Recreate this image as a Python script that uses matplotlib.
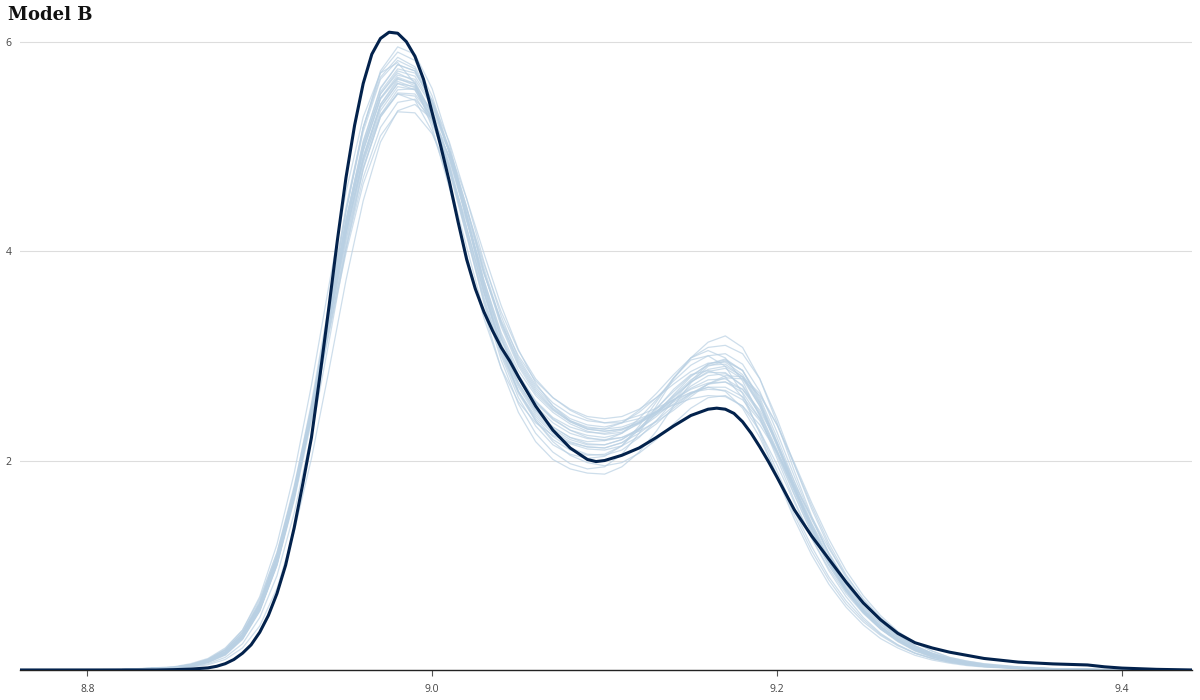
import numpy as np
import matplotlib.pyplot as plt

obs_x = [8.761, 8.84, 8.85, 8.86, 8.87, 8.875, 8.88, 8.885, 8.89, 8.895,
         8.900, 8.905, 8.910, 8.915, 8.920, 8.925, 8.930, 8.935, 8.940, 8.945,
         8.950, 8.955, 8.960, 8.965, 8.970, 8.975, 8.980, 8.985, 8.990, 8.995,
         9.000, 9.005, 9.010, 9.015, 9.020, 9.025, 9.030, 9.035, 9.040, 9.045,
         9.050, 9.060, 9.070, 9.080, 9.090, 9.095, 9.100, 9.110, 9.120, 9.130,
         9.140, 9.150, 9.160, 9.165, 9.170, 9.175, 9.180, 9.185, 9.190, 9.195,
         9.200, 9.210, 9.220, 9.230, 9.240, 9.250, 9.260, 9.270, 9.280, 9.290,
         9.300, 9.320, 9.340, 9.360, 9.380, 9.390, 9.400, 9.420, 9.4406]
obs_y = [0.0, 0.0, 0.003, 0.008, 0.02, 0.035, 0.06, 0.10, 0.16, 0.24,
         0.36, 0.52, 0.73, 1.00, 1.36, 1.78, 2.22, 2.82, 3.45, 4.10,
         4.70, 5.20, 5.60, 5.88, 6.03, 6.09, 6.08, 6.00, 5.86, 5.64,
         5.32, 5.00, 4.66, 4.28, 3.92, 3.64, 3.42, 3.24, 3.08, 2.95,
         2.80, 2.52, 2.29, 2.12, 2.01, 1.99, 2.00, 2.05, 2.12, 2.22,
         2.33, 2.43, 2.49, 2.50, 2.49, 2.45, 2.37, 2.26, 2.13, 1.99,
         1.84, 1.53, 1.28, 1.06, 0.84, 0.64, 0.48, 0.35, 0.26, 0.21,
         0.17, 0.11, 0.075, 0.058, 0.048, 0.03, 0.018, 0.006, 0.0]

# replicated densities (light lines), all on one grid
rep_x = [8.76, 8.82, 8.85, 8.86, 8.87, 8.88, 8.89, 8.90, 8.91, 8.92,
         8.93, 8.94, 8.95, 8.96, 8.97, 8.98, 8.99, 9.00, 9.01, 9.02,
         9.03, 9.04, 9.05, 9.06, 9.07, 9.08, 9.09, 9.10, 9.11, 9.12,
         9.13, 9.14, 9.15, 9.16, 9.17, 9.18, 9.19, 9.20, 9.21, 9.22,
         9.23, 9.24, 9.25, 9.26, 9.27, 9.28, 9.29, 9.30, 9.31, 9.32,
         9.34, 9.36, 9.38, 9.40, 9.44]
reps = [
    [0, 0.003, 0.02, 0.04, 0.08, 0.16, 0.32, 0.60, 1.05, 1.68,
     2.45, 3.32, 4.18, 4.90, 5.40, 5.64, 5.60, 5.32, 4.88, 4.30,
     3.68, 3.16, 2.80, 2.56, 2.40, 2.29, 2.22, 2.19, 2.22, 2.30,
     2.42, 2.57, 2.71, 2.81, 2.83, 2.72, 2.46, 2.10, 1.71, 1.34,
     1.03, 0.77, 0.57, 0.41, 0.29, 0.20, 0.14, 0.095, 0.065, 0.045,
     0.022, 0.010, 0.005, 0.002, 0],
    [0, 0.002, 0.015, 0.03, 0.07, 0.14, 0.29, 0.56, 1.00, 1.65,
     2.48, 3.42, 4.38, 5.18, 5.72, 5.95, 5.88, 5.55, 5.02, 4.35,
     3.66, 3.08, 2.66, 2.38, 2.18, 2.05, 1.98, 1.95, 1.98, 2.07,
     2.20, 2.35, 2.50, 2.60, 2.62, 2.52, 2.28, 1.96, 1.60, 1.26,
     0.97, 0.73, 0.54, 0.39, 0.28, 0.19, 0.13, 0.09, 0.06, 0.04,
     0.02, 0.009, 0.004, 0.002, 0],
    [0, 0.004, 0.025, 0.05, 0.10, 0.19, 0.36, 0.64, 1.08, 1.68,
     2.40, 3.20, 3.98, 4.64, 5.10, 5.33, 5.32, 5.12, 4.76, 4.28,
     3.78, 3.34, 3.00, 2.76, 2.60, 2.49, 2.42, 2.40, 2.42, 2.49,
     2.60, 2.73, 2.85, 2.93, 2.94, 2.82, 2.55, 2.17, 1.76, 1.38,
     1.06, 0.79, 0.58, 0.42, 0.30, 0.21, 0.14, 0.095, 0.065, 0.045,
     0.022, 0.010, 0.005, 0.002, 0],
    [0, 0.003, 0.02, 0.04, 0.08, 0.16, 0.31, 0.58, 1.02, 1.66,
     2.46, 3.38, 4.30, 5.05, 5.55, 5.78, 5.72, 5.42, 4.94, 4.32,
     3.66, 3.12, 2.74, 2.48, 2.32, 2.22, 2.18, 2.19, 2.26, 2.40,
     2.58, 2.79, 2.98, 3.13, 3.19, 3.08, 2.78, 2.36, 1.90, 1.47,
     1.11, 0.82, 0.59, 0.42, 0.29, 0.20, 0.13, 0.09, 0.06, 0.04,
     0.018, 0.008, 0.004, 0.001, 0],
    [0, 0.002, 0.015, 0.03, 0.06, 0.12, 0.25, 0.50, 0.90, 1.50,
     2.25, 3.12, 4.02, 4.78, 5.30, 5.54, 5.55, 5.34, 4.96, 4.42,
     3.84, 3.32, 2.94, 2.68, 2.50, 2.38, 2.32, 2.30, 2.32, 2.38,
     2.47, 2.58, 2.68, 2.74, 2.75, 2.68, 2.48, 2.17, 1.80, 1.44,
     1.12, 0.85, 0.63, 0.46, 0.33, 0.23, 0.16, 0.11, 0.075, 0.05,
     0.025, 0.012, 0.005, 0.002, 0],
    [0, 0.003, 0.02, 0.04, 0.09, 0.17, 0.33, 0.62, 1.08, 1.74,
     2.55, 3.48, 4.42, 5.18, 5.66, 5.85, 5.76, 5.44, 4.94, 4.30,
     3.62, 3.06, 2.66, 2.40, 2.23, 2.12, 2.06, 2.05, 2.10, 2.22,
     2.38, 2.57, 2.76, 2.92, 2.97, 2.86, 2.56, 2.16, 1.74, 1.35,
     1.03, 0.76, 0.55, 0.39, 0.27, 0.18, 0.12, 0.085, 0.055, 0.035,
     0.016, 0.007, 0.003, 0.001, 0],
    [0, 0.005, 0.03, 0.06, 0.11, 0.21, 0.38, 0.68, 1.12, 1.72,
     2.44, 3.24, 4.02, 4.70, 5.18, 5.42, 5.45, 5.26, 4.90, 4.40,
     3.88, 3.42, 3.05, 2.78, 2.60, 2.48, 2.40, 2.36, 2.36, 2.40,
     2.46, 2.53, 2.59, 2.62, 2.61, 2.52, 2.34, 2.08, 1.77, 1.46,
     1.16, 0.90, 0.68, 0.50, 0.36, 0.26, 0.18, 0.12, 0.085, 0.06,
     0.03, 0.014, 0.006, 0.002, 0],
    [0, 0.003, 0.02, 0.04, 0.08, 0.16, 0.31, 0.59, 1.04, 1.68,
     2.48, 3.38, 4.30, 5.02, 5.50, 5.70, 5.62, 5.30, 4.80, 4.16,
     3.50, 2.96, 2.54, 2.26, 2.08, 1.97, 1.92, 1.94, 2.06, 2.26,
     2.52, 2.78, 2.98, 3.05, 2.98, 2.76, 2.42, 2.02, 1.62, 1.26,
     0.95, 0.70, 0.50, 0.35, 0.24, 0.16, 0.11, 0.075, 0.05, 0.033,
     0.015, 0.006, 0.003, 0.001, 0],
    [0, 0.003, 0.02, 0.045, 0.09, 0.17, 0.33, 0.61, 1.06, 1.69,
     2.46, 3.32, 4.16, 4.88, 5.37, 5.60, 5.57, 5.30, 4.88, 4.32,
     3.72, 3.22, 2.86, 2.62, 2.46, 2.35, 2.28, 2.25, 2.27, 2.35,
     2.47, 2.61, 2.75, 2.84, 2.84, 2.71, 2.44, 2.07, 1.68, 1.31,
     1.00, 0.75, 0.55, 0.40, 0.28, 0.19, 0.13, 0.09, 0.06, 0.04,
     0.02, 0.009, 0.004, 0.002, 0],
    [0, 0.004, 0.025, 0.05, 0.10, 0.20, 0.38, 0.70, 1.20, 1.88,
     2.72, 3.66, 4.56, 5.28, 5.70, 5.80, 5.60, 5.18, 4.60, 3.96,
     3.36, 2.88, 2.56, 2.36, 2.24, 2.17, 2.13, 2.12, 2.17, 2.26,
     2.38, 2.52, 2.64, 2.70, 2.66, 2.50, 2.22, 1.86, 1.48, 1.14,
     0.86, 0.63, 0.46, 0.33, 0.23, 0.16, 0.11, 0.075, 0.05, 0.033,
     0.015, 0.006, 0.003, 0.001, 0],
    [0, 0.002, 0.012, 0.025, 0.05, 0.10, 0.21, 0.42, 0.78, 1.32,
     2.02, 2.85, 3.72, 4.48, 5.04, 5.34, 5.40, 5.26, 4.96, 4.50,
     3.98, 3.48, 3.06, 2.74, 2.52, 2.38, 2.31, 2.30, 2.36, 2.48,
     2.64, 2.82, 2.98, 3.08, 3.10, 3.02, 2.78, 2.40, 1.96, 1.54,
     1.18, 0.88, 0.64, 0.46, 0.32, 0.22, 0.15, 0.10, 0.07, 0.046,
     0.022, 0.010, 0.004, 0.002, 0],
    [0, 0.003, 0.02, 0.04, 0.085, 0.17, 0.33, 0.62, 1.08, 1.72,
     2.50, 3.38, 4.24, 4.96, 5.45, 5.65, 5.58, 5.27, 4.80, 4.18,
     3.56, 3.04, 2.66, 2.42, 2.26, 2.16, 2.11, 2.10, 2.14, 2.23,
     2.35, 2.50, 2.63, 2.73, 2.75, 2.65, 2.40, 2.05, 1.67, 1.31,
     1.00, 0.75, 0.55, 0.40, 0.28, 0.19, 0.13, 0.09, 0.06, 0.04,
     0.02, 0.009, 0.004, 0.002, 0],
    [0, 0.002, 0.015, 0.035, 0.075, 0.15, 0.30, 0.57, 1.02, 1.66,
     2.48, 3.42, 4.38, 5.18, 5.70, 5.90, 5.82, 5.48, 4.96, 4.34,
     3.70, 3.18, 2.80, 2.55, 2.39, 2.29, 2.24, 2.22, 2.26, 2.36,
     2.50, 2.66, 2.81, 2.91, 2.92, 2.80, 2.52, 2.14, 1.73, 1.35,
     1.03, 0.77, 0.56, 0.40, 0.28, 0.19, 0.13, 0.09, 0.06, 0.04,
     0.02, 0.009, 0.004, 0.002, 0],
    [0, 0.004, 0.025, 0.05, 0.10, 0.19, 0.36, 0.66, 1.12, 1.76,
     2.52, 3.36, 4.18, 4.86, 5.30, 5.50, 5.44, 5.14, 4.66, 4.04,
     3.42, 2.88, 2.46, 2.18, 2.01, 1.92, 1.88, 1.87, 1.94, 2.08,
     2.28, 2.52, 2.74, 2.90, 2.95, 2.86, 2.60, 2.22, 1.80, 1.40,
     1.06, 0.78, 0.56, 0.40, 0.28, 0.19, 0.13, 0.09, 0.06, 0.04,
     0.02, 0.009, 0.004, 0.002, 0],
    [0, 0.003, 0.02, 0.04, 0.08, 0.16, 0.31, 0.59, 1.04, 1.68,
     2.47, 3.37, 4.26, 5.00, 5.52, 5.74, 5.70, 5.44, 5.04, 4.50,
     3.90, 3.38, 2.98, 2.72, 2.55, 2.44, 2.38, 2.36, 2.38, 2.43,
     2.50, 2.58, 2.65, 2.68, 2.67, 2.58, 2.38, 2.08, 1.74, 1.40,
     1.10, 0.84, 0.63, 0.46, 0.33, 0.23, 0.16, 0.11, 0.075, 0.05,
     0.025, 0.011, 0.005, 0.002, 0],
    [0, 0.003, 0.02, 0.045, 0.09, 0.17, 0.33, 0.62, 1.07, 1.70,
     2.46, 3.32, 4.17, 4.88, 5.38, 5.60, 5.54, 5.24, 4.76, 4.14,
     3.52, 3.00, 2.60, 2.33, 2.15, 2.06, 2.02, 2.04, 2.14, 2.33,
     2.56, 2.79, 2.96, 3.00, 2.90, 2.64, 2.26, 1.84, 1.44, 1.10,
     0.82, 0.60, 0.43, 0.30, 0.21, 0.14, 0.095, 0.065, 0.042, 0.028,
     0.012, 0.005, 0.002, 0.001, 0],
    [0, 0.003, 0.02, 0.04, 0.08, 0.16, 0.31, 0.58, 1.02, 1.65,
     2.43, 3.32, 4.22, 4.96, 5.46, 5.68, 5.64, 5.38, 4.96, 4.40,
     3.80, 3.30, 2.92, 2.66, 2.49, 2.37, 2.30, 2.28, 2.30, 2.36,
     2.44, 2.54, 2.64, 2.73, 2.79, 2.78, 2.62, 2.34, 1.98, 1.60,
     1.25, 0.95, 0.71, 0.52, 0.37, 0.26, 0.18, 0.12, 0.085, 0.058,
     0.028, 0.013, 0.006, 0.002, 0],
    [0, 0.004, 0.025, 0.05, 0.10, 0.19, 0.35, 0.64, 1.09, 1.71,
     2.46, 3.28, 4.10, 4.80, 5.28, 5.50, 5.48, 5.22, 4.80, 4.22,
     3.62, 3.10, 2.72, 2.46, 2.30, 2.20, 2.15, 2.15, 2.20, 2.30,
     2.44, 2.60, 2.75, 2.85, 2.88, 2.78, 2.52, 2.14, 1.74, 1.36,
     1.04, 0.78, 0.57, 0.41, 0.29, 0.20, 0.14, 0.095, 0.065, 0.045,
     0.022, 0.010, 0.005, 0.002, 0],
    [0, 0.002, 0.015, 0.035, 0.075, 0.15, 0.30, 0.58, 1.03, 1.68,
     2.50, 3.44, 4.38, 5.14, 5.64, 5.82, 5.74, 5.42, 4.94, 4.34,
     3.72, 3.20, 2.82, 2.57, 2.41, 2.32, 2.27, 2.26, 2.29, 2.36,
     2.46, 2.58, 2.69, 2.77, 2.78, 2.68, 2.44, 2.09, 1.71, 1.34,
     1.03, 0.77, 0.57, 0.41, 0.29, 0.20, 0.14, 0.095, 0.065, 0.045,
     0.022, 0.010, 0.005, 0.002, 0],
    [0, 0.003, 0.02, 0.04, 0.08, 0.16, 0.32, 0.60, 1.04, 1.66,
     2.42, 3.28, 4.12, 4.84, 5.34, 5.57, 5.54, 5.26, 4.82, 4.22,
     3.60, 3.10, 2.74, 2.48, 2.32, 2.22, 2.16, 2.15, 2.20, 2.31,
     2.46, 2.62, 2.77, 2.87, 2.90, 2.80, 2.54, 2.16, 1.76, 1.37,
     1.05, 0.78, 0.57, 0.41, 0.29, 0.20, 0.14, 0.095, 0.065, 0.045,
     0.022, 0.010, 0.005, 0.002, 0],
    [0, 0.003, 0.02, 0.04, 0.08, 0.16, 0.31, 0.59, 1.03, 1.67,
     2.46, 3.36, 4.25, 4.99, 5.50, 5.72, 5.67, 5.40, 4.98, 4.42,
     3.80, 3.28, 2.90, 2.64, 2.48, 2.37, 2.30, 2.28, 2.30, 2.37,
     2.46, 2.56, 2.65, 2.70, 2.70, 2.61, 2.40, 2.08, 1.72, 1.37,
     1.07, 0.81, 0.60, 0.44, 0.31, 0.22, 0.15, 0.10, 0.07, 0.048,
     0.024, 0.011, 0.005, 0.002, 0],
    [0, 0.004, 0.025, 0.05, 0.09, 0.18, 0.34, 0.63, 1.09, 1.72,
     2.48, 3.34, 4.18, 4.90, 5.40, 5.62, 5.56, 5.26, 4.78, 4.16,
     3.54, 3.02, 2.64, 2.38, 2.20, 2.10, 2.05, 2.06, 2.14, 2.30,
     2.49, 2.68, 2.82, 2.86, 2.80, 2.60, 2.28, 1.90, 1.52, 1.18,
     0.89, 0.66, 0.48, 0.34, 0.24, 0.16, 0.11, 0.075, 0.05, 0.033,
     0.015, 0.006, 0.003, 0.001, 0],
    [0, 0.003, 0.02, 0.04, 0.08, 0.15, 0.30, 0.57, 1.00, 1.62,
     2.38, 3.22, 4.06, 4.78, 5.28, 5.51, 5.50, 5.28, 4.90, 4.36,
     3.80, 3.32, 2.96, 2.70, 2.52, 2.40, 2.34, 2.32, 2.36, 2.46,
     2.60, 2.76, 2.91, 3.00, 3.02, 2.92, 2.66, 2.27, 1.85, 1.45,
     1.11, 0.83, 0.61, 0.44, 0.31, 0.21, 0.15, 0.10, 0.07, 0.046,
     0.022, 0.010, 0.005, 0.002, 0],
    [0, 0.002, 0.015, 0.035, 0.075, 0.15, 0.30, 0.57, 1.01, 1.64,
     2.44, 3.36, 4.28, 5.04, 5.56, 5.78, 5.72, 5.42, 4.94, 4.32,
     3.68, 3.16, 2.78, 2.52, 2.36, 2.26, 2.21, 2.20, 2.22, 2.28,
     2.37, 2.48, 2.61, 2.73, 2.81, 2.80, 2.64, 2.34, 1.96, 1.57,
     1.21, 0.91, 0.67, 0.48, 0.34, 0.23, 0.16, 0.11, 0.075, 0.05,
     0.024, 0.011, 0.005, 0.002, 0],
    [0, 0.003, 0.02, 0.045, 0.09, 0.17, 0.33, 0.62, 1.07, 1.71,
     2.48, 3.36, 4.24, 4.96, 5.46, 5.66, 5.60, 5.30, 4.84, 4.22,
     3.60, 3.08, 2.70, 2.44, 2.28, 2.18, 2.13, 2.12, 2.17, 2.29,
     2.45, 2.63, 2.80, 2.92, 2.96, 2.86, 2.58, 2.18, 1.76, 1.37,
     1.04, 0.77, 0.56, 0.40, 0.28, 0.19, 0.13, 0.09, 0.06, 0.04,
     0.02, 0.009, 0.004, 0.002, 0],
]

x_ticks = [8.8, 9.0, 9.2, 9.4]
x_tick_labels = ["8.8", "9.0", "9.2", "9.4"]
y_ticks = [2, 4, 6]

navy = "#03224c"
light = "#b9d0e3"

fig = plt.figure(figsize=(12, 7), dpi=100)
ax = fig.add_axes([0.0167, 0.0429, 0.9766, 0.9141])

# replicated draws first, observed on top
for r in reps:
    ax.plot(rep_x, r, color=light, lw=0.9, alpha=0.7, zorder=2)
ax.plot(obs_x, obs_y, color=navy, lw=2.2, zorder=3, solid_capstyle="round")

ax.set_xlim(8.761, 9.4406)
ax.set_ylim(0, 6.11)

ax.set_yticks(y_ticks)
ax.set_yticklabels([str(v) for v in y_ticks])
ax.set_xticks(x_ticks)
ax.set_xticklabels(x_tick_labels)
ax.grid(axis="y", color="#dddddd", lw=0.8, zorder=0)
ax.set_axisbelow(True)

for side in ["top", "right", "left"]:
    ax.spines[side].set_visible(False)
ax.spines["bottom"].set_color("#222222")
ax.spines["bottom"].set_linewidth(1.0)
ax.tick_params(axis="y", length=0, pad=6, labelsize=7.5, labelcolor="#444444")
ax.tick_params(axis="x", length=4, width=0.8, color="#555555", pad=6,
               labelsize=7.5, labelcolor="#444444")
for lbl in ax.get_xticklabels() + ax.get_yticklabels():
    lbl.set_fontfamily("Open Sans")

fig.text(0.007, 0.978, "Model B", fontsize=13, fontweight="bold",
         family="DejaVu Serif", ha="left", va="center", color="#111111")

fig.savefig("out.png", dpi=100)
